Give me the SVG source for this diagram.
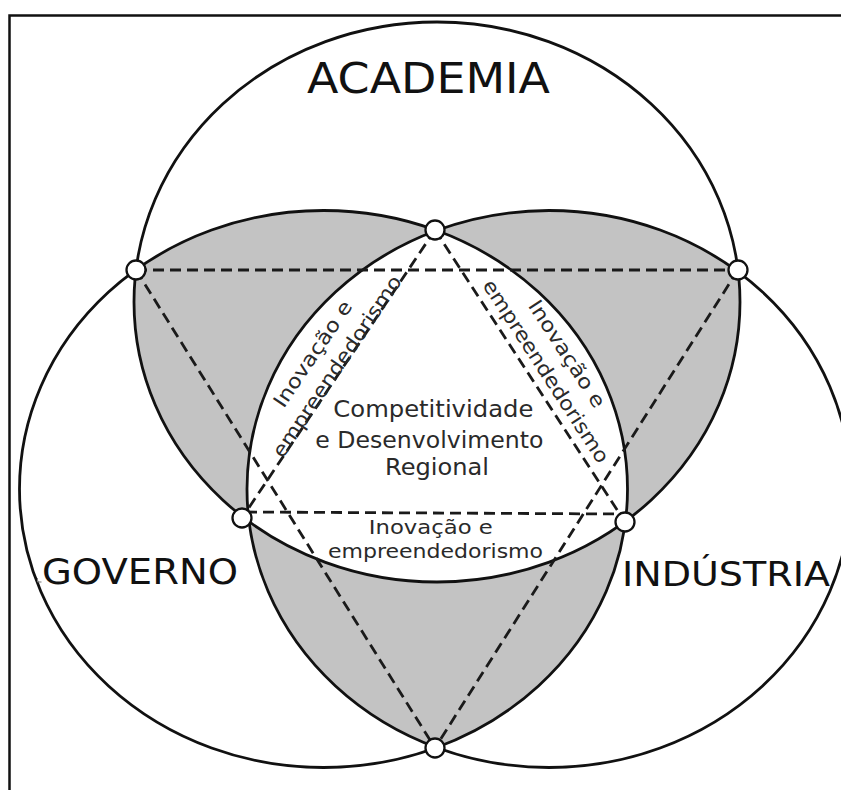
<svg xmlns="http://www.w3.org/2000/svg" width="841" height="790" viewBox="0 0 841 790">
  <style>
    .label { font-family: "DejaVu Sans", Verdana, sans-serif; fill: #111; }
    .inner { font-family: "DejaVu Sans", Verdana, sans-serif; fill: #2a2a2a; }
    .ring { fill: none; stroke: #111; stroke-width: 2.8; }
    .lap { fill: #c3c3c3; }
    .dash { fill: none; stroke: #1a1a1a; stroke-width: 2.8; stroke-dasharray: 11 6; }
    .joint { fill: #fff; stroke: #111; stroke-width: 2.3; }
  </style>
  <defs>
    <ellipse id="shapeA" cx="437" cy="302" rx="303" ry="280"/>
    <ellipse id="shapeG" cx="323.5" cy="489" rx="304" ry="278.5"/>
    <ellipse id="shapeI" cx="549" cy="489" rx="302" ry="278.5"/>
    <clipPath id="clipG"><use href="#shapeG"/></clipPath>
    <clipPath id="clipI"><use href="#shapeI"/></clipPath>
  </defs>

  <rect width="841" height="790" fill="#fff"/>
  <!-- frame -->
  <rect x="9.5" y="15.5" width="900" height="900" fill="none" stroke="#111" stroke-width="2.5"/>

  <!-- pairwise overlaps (grey) and the central region (white) -->
  <g id="overlaps">
    <use href="#shapeA" class="lap" clip-path="url(#clipG)"/>
    <use href="#shapeA" class="lap" clip-path="url(#clipI)"/>
    <use href="#shapeG" class="lap" clip-path="url(#clipI)"/>
    <g clip-path="url(#clipG)">
      <use href="#shapeA" fill="#fff" clip-path="url(#clipI)"/>
    </g>
  </g>

  <g id="academia">
    <use href="#shapeA" class="ring"/>
    <text class="label" x="307" y="93" font-size="42" textLength="243" lengthAdjust="spacingAndGlyphs">ACADEMIA</text>
  </g>
  <g id="governo">
    <use href="#shapeG" class="ring"/>
    <text class="label" x="42" y="584" font-size="36" textLength="196" lengthAdjust="spacingAndGlyphs">GOVERNO</text>
    <path d="M37.5 578 v4 h4" fill="none" stroke="#777" stroke-width="1"/>
  </g>
  <g id="industria">
    <use href="#shapeI" class="ring"/>
    <text class="label" x="622" y="586" font-size="33" textLength="208" lengthAdjust="spacingAndGlyphs">INDÚSTRIA</text>
  </g>

  <!-- dashed triangles linking the junctions -->
  <g id="connectors">
    <line class="dash" x1="136" y1="270" x2="738" y2="270"/>
    <line class="dash" x1="136" y1="270" x2="435" y2="748"/>
    <line class="dash" x1="738" y1="270" x2="435" y2="748"/>
    <line class="dash" x1="435" y1="230" x2="242" y2="518"/>
    <line class="dash" x1="435" y1="230" x2="625" y2="522"/>
    <line class="dash" x1="246" y1="512" x2="621" y2="514"/>
  </g>

  <g id="centre">
    <text class="inner" font-size="23" text-anchor="middle">
      <tspan x="437" y="417" textLength="200" lengthAdjust="spacingAndGlyphs">Competitividade</tspan>
      <tspan x="433" y="448" textLength="228" lengthAdjust="spacingAndGlyphs">e Desenvolvimento</tspan>
      <tspan x="437" y="475" textLength="104" lengthAdjust="spacingAndGlyphs">Regional</tspan>
    </text>
  </g>

  <g id="inov-bottom">
    <text class="inner" font-size="20" text-anchor="middle">
      <tspan x="434" y="534" textLength="124" lengthAdjust="spacingAndGlyphs">Inovação e</tspan>
      <tspan x="435.5" y="558" textLength="215" lengthAdjust="spacingAndGlyphs">empreendedorismo</tspan>
    </text>
  </g>
  <g id="inov-left" transform="translate(326 359) rotate(-56)">
    <text class="inner" font-size="20" text-anchor="middle">
      <tspan x="0" y="-7" textLength="124" lengthAdjust="spacingAndGlyphs">Inovação e</tspan>
      <tspan x="0" y="20" textLength="214" lengthAdjust="spacingAndGlyphs">empreendedorismo</tspan>
    </text>
  </g>
  <g id="inov-right" transform="translate(557 364) rotate(57)">
    <text class="inner" font-size="20" text-anchor="middle">
      <tspan x="0" y="-7" textLength="124" lengthAdjust="spacingAndGlyphs">Inovação e</tspan>
      <tspan x="0" y="20" textLength="214" lengthAdjust="spacingAndGlyphs">empreendedorismo</tspan>
    </text>
  </g>

  <!-- junction points -->
  <g id="junctions">
    <circle id="j-top" class="joint" cx="435" cy="230" r="9.5"/>
    <circle id="j-left" class="joint" cx="136" cy="270" r="9.5"/>
    <circle id="j-right" class="joint" cx="738" cy="270" r="9.5"/>
    <circle id="j-lower-left" class="joint" cx="242" cy="518" r="9.5"/>
    <circle id="j-lower-right" class="joint" cx="625" cy="522" r="9.5"/>
    <circle id="j-bottom" class="joint" cx="435" cy="748" r="9.5"/>
  </g>
</svg>
